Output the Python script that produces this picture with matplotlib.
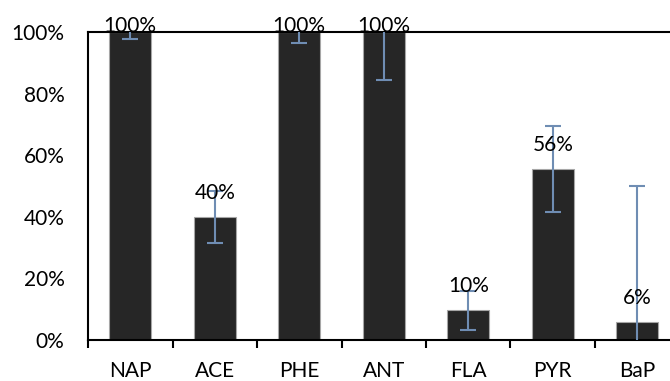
import matplotlib
matplotlib.use("Agg")
import matplotlib.pyplot as plt
import numpy as np

compounds = ["NAP", "ACE", "PHE", "ANT", "FLA", "PYR", "BaP"]
removal = [1.00, 0.40, 1.00, 1.00, 0.096, 0.556, 0.06]
err = [0.024, 0.085, 0.037, 0.157, 0.062, 0.139, 0.44]
y_ticks = [0.0, 0.2, 0.4, 0.6, 0.8, 1.0]
y_tick_labels = ["0%", "20%", "40%", "60%", "80%", "100%"]

plt.rcParams["font.family"] = ["Lato", "DejaVu Sans"]
FS = 15

fig = plt.figure(figsize=(6.70, 3.81), dpi=100)
ax_h_px = 308
ax = fig.add_axes([88 / 670, 41 / 381, (679.5 - 88) / 670, ax_h_px / 381])

x = np.arange(len(compounds))
ax.bar(x, removal, width=0.5, color="#262626", edgecolor="#a6a6a6",
       linewidth=0.8, zorder=2)
ax.errorbar(x, removal, yerr=err, fmt="none", ecolor="#6f8db3",
            elinewidth=1.5, capsize=6, capthick=1.5, zorder=3, clip_on=True)

# value labels sit a little above each bar, kept inside the plot area
gap = 18 / ax_h_px
for xi, v in zip(x, removal):
    ax.text(xi, min(v + gap, 1.0), f"{v:.0%}", ha="center", va="baseline",
            fontsize=FS, color="black", zorder=4, clip_on=False)

ax.set_xlim(-0.5, len(compounds) - 0.5)
ax.set_ylim(0, 1.0)
ax.set_yticks(y_ticks)
ax.set_yticklabels(y_tick_labels, fontsize=FS)
ax.tick_params(axis="y", length=0, pad=17)

ax.set_xticks(x)
ax.set_xticklabels(compounds, fontsize=FS)
ax.tick_params(axis="x", which="major", length=0, pad=15)
ax.set_xticks(np.arange(-0.5, len(compounds), 1.0), minor=True)
ax.tick_params(axis="x", which="minor", length=6, width=1.5, direction="out",
               color="black")

for side in ["left", "bottom", "top"]:
    ax.spines[side].set_linewidth(1.5)
    ax.spines[side].set_color("black")
ax.spines["right"].set_visible(False)

fig.savefig("out.png", dpi=100)
